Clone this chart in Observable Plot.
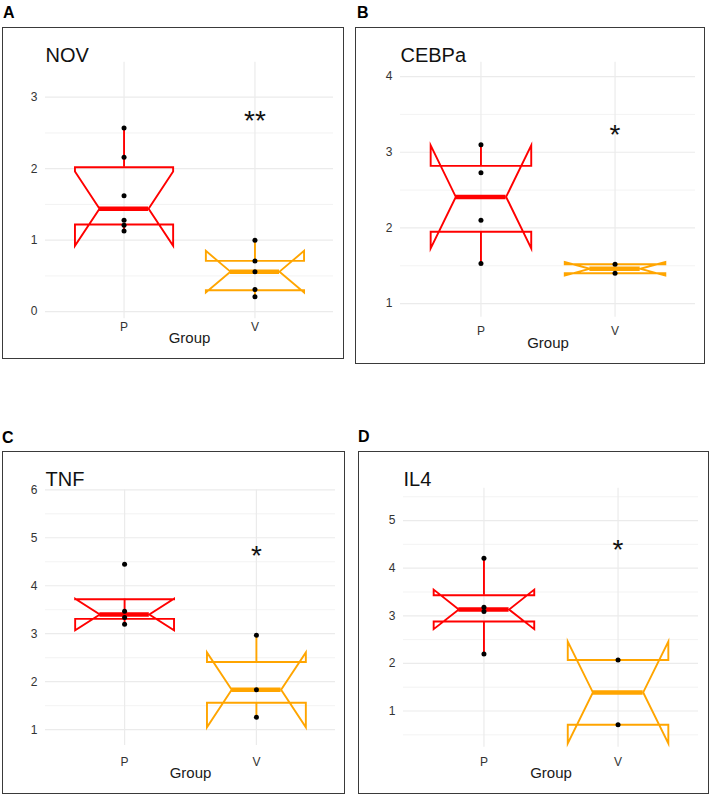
<!DOCTYPE html>
<html><head><meta charset="utf-8">
<script src="https://cdn.jsdelivr.net/npm/d3@7"></script>
<script src="https://cdn.jsdelivr.net/npm/@observablehq/plot@0.6"></script>
<style>
html,body{margin:0;padding:0;background:#fff;}
#page{position:relative;width:709px;height:794px;overflow:hidden;font-family:"Liberation Sans",Arial,Helvetica,sans-serif;}
.panel{position:absolute;}
.border{position:absolute;box-sizing:border-box;border:1.3px solid #3a3a3a;pointer-events:none;}
</style></head><body><div id="page"></div>
<script>
// ---------------- data ----------------
const panelLetters = ["A", "B", "C", "D"];
const panelTitles = ["NOV", "CEBPa", "TNF", "IL4"];
const groups = ["P", "V"];
const groupColors = ["#FF0000", "#FFA500"];

// box statistics per panel, [P, V]
const yMin       = [[1.12, 0.21], [1.53, 1.40], [3.20, 1.26], [2.20, 0.71]];
const lowerHinge = [[1.22, 0.30], [1.95, 1.40], [3.31, 1.56], [2.88, 0.71]];
const medians    = [[1.44, 0.56], [2.41, 1.46], [3.40, 1.83], [3.13, 1.39]];
const upperHinge = [[2.02, 0.71], [2.82, 1.52], [3.72, 2.41], [3.43, 2.07]];
const yMax       = [[2.57, 1.00], [3.10, 1.52], [3.48, 2.97], [4.21, 2.07]];
const notchLow   = [[0.92, 0.27], [1.73, 1.37], [3.07, 1.05], [2.72, 0.32]];
const notchHigh  = [[1.96, 0.85], [3.09, 1.55], [3.73, 2.61], [3.55, 2.46]];

// individual observations
const pointsP = [[2.57, 2.16, 1.62, 1.28, 1.21, 1.13], [3.10, 2.73, 2.10, 1.53], [4.45, 3.47, 3.34, 3.20], [4.21, 3.18, 3.09, 2.20]];
const pointsV = [[1.00, 0.71, 0.56, 0.31, 0.21], [1.52, 1.40], [2.97, 1.83, 1.26], [2.07, 0.71]];

// significance marks
const stars = ["**", "*", "*", "*"];
const starY = [2.76, 3.32, 4.77, 4.52];

// axes
const yTicks = [[0, 1, 2, 3], [1, 2, 3, 4], [1, 2, 3, 4, 5, 6], [1, 2, 3, 4, 5]];
const yMinor = [[0.5, 1.5, 2.5], [1.5, 2.5, 3.5], [1.5, 2.5, 3.5, 4.5, 5.5], [0.5, 1.5, 2.5, 3.5, 4.5, 5.5]];
const yDomains = [[-0.10, 3.49], [0.82, 4.19], [0.67, 6.0], [0.24, 5.68]];
const xLabel = "Group";

// ---------------- layout (page pixels) ----------------
const layout = [
  {box: [3, 28, 343, 358],   frame: [45, 61.7, 333, 318.3],  letter: [3, 18.3],   xGap: 4},
  {box: [356, 28, 704, 363], frame: [400, 61.7, 695, 316.7], letter: [357, 18.3], xGap: 9},
  {box: [3, 452, 344, 793],  frame: [45, 489.3, 335, 745],   letter: [2, 442.7],  xGap: 11.5},
  {box: [359, 452, 708, 793],frame: [403, 487.7, 698, 746.7],letter: [358, 442.3],xGap: 10}
];
const FONT = '"Liberation Sans", Arial, Helvetica, sans-serif';
const BOX_HALF = 0.375, NOTCH_HALF = 0.1875;
const GRID = "#EBEBEB";
const TICK_COLOR = "#333333";

const page = document.getElementById("page");

function notchPolygon(b) {
  const x0 = b.pos - BOX_HALF, x1 = b.pos + BOX_HALF;
  const n0 = b.pos - NOTCH_HALF, n1 = b.pos + NOTCH_HALF;
  return [
    [x0, b.upper], [x0, b.notchHigh], [n0, b.middle], [x0, b.notchLow], [x0, b.lower],
    [x1, b.lower], [x1, b.notchLow], [n1, b.middle], [x1, b.notchHigh], [x1, b.upper]
  ].map(([x, y]) => ({group: b.group, x, y}));
}

panelTitles.forEach((title, i) => {
  const L = layout[i];
  const [bl, bt, br, bb] = L.box;
  const [fl, ft, fr, fb] = L.frame;
  const boxes = groups.map((g, j) => ({
    group: g, pos: j + 1,
    ymin: yMin[i][j], lower: lowerHinge[i][j], middle: medians[i][j],
    upper: upperHinge[i][j], ymax: yMax[i][j],
    notchLow: notchLow[i][j], notchHigh: notchHigh[i][j]
  }));
  const poly = boxes.flatMap(notchPolygon);
  const pts = [
    ...pointsP[i].map(v => ({group: "P", pos: 1, value: v})),
    ...pointsV[i].map(v => ({group: "V", pos: 2, value: v}))
  ];
  const starData = [{pos: 2, y: starY[i], label: stars[i]}];

  const titleDy = (bt + 25.5) - ft - 0.32 * 20;
  const groupDy = (bb - 10.5) - fb - 0.32 * 15;

  const svg = Plot.plot({
    width: br - bl,
    height: bb - bt,
    marginLeft: fl - bl,
    marginRight: br - fr,
    marginTop: ft - bt,
    marginBottom: bb - fb,
    x: {domain: [0.4, 2.6]},
    y: {domain: yDomains[i]},
    color: {domain: groups, range: groupColors},
    style: {fontFamily: FONT, fontSize: "12px", background: "transparent", overflow: "visible"},
    marks: [
      Plot.ruleY(yMinor[i], {stroke: GRID, strokeWidth: 0.6}),
      Plot.ruleY(yTicks[i], {stroke: GRID, strokeWidth: 1.2}),
      Plot.ruleX(boxes, {x: "pos", stroke: GRID, strokeWidth: 1.2}),
      Plot.axisY(yTicks[i], {tickSize: 0, tickPadding: 8, tickFormat: d => String(d), color: TICK_COLOR, label: null, fontSize: 12}),
      Plot.axisX([1, 2], {tickSize: 0, tickPadding: L.xGap, tickFormat: d => groups[d - 1], color: TICK_COLOR, label: null, fontSize: 12}),
      Plot.ruleX(boxes, {x: "pos", y1: "upper", y2: "ymax", stroke: "group", strokeWidth: 1.9}),
      Plot.ruleX(boxes, {x: "pos", y1: "lower", y2: "ymin", stroke: "group", strokeWidth: 1.9}),
      Plot.line(poly, {x: "x", y: "y", z: "group", stroke: "group", strokeWidth: 1.9, curve: "linear-closed", strokeLinejoin: "miter", strokeMiterlimit: 10}),
      Plot.ruleY(boxes, {y: "middle", x1: d => d.pos - NOTCH_HALF, x2: d => d.pos + NOTCH_HALF, stroke: "group", strokeWidth: 4.5}),
      Plot.dot(pts, {x: "pos", y: "value", r: 2.5, fill: "black", stroke: null}),
      Plot.text(starData, {x: "pos", y: "y", text: "label", fontSize: 28, fill: "#111", dy: 7}),
      Plot.text([title], {frameAnchor: "top-left", text: d => d, textAnchor: "start", fontSize: 20, fill: "#111", dy: titleDy}),
      Plot.text([xLabel], {frameAnchor: "bottom", text: d => d, fontSize: 15, fill: "#1a1a1a", dy: groupDy})
    ]
  });
  const wrap = document.createElement("div");
  wrap.className = "panel";
  wrap.style.left = bl + "px";
  wrap.style.top = bt + "px";
  wrap.appendChild(svg);
  page.appendChild(wrap);

  const border = document.createElement("div");
  border.className = "border";
  border.style.left = (bl - 0.65) + "px";
  border.style.top = (bt - 0.65) + "px";
  border.style.width = (br - bl + 1.3) + "px";
  border.style.height = (bb - bt + 1.3) + "px";
  page.appendChild(border);
});

// panel letters
const overlay = d3.select(page).append("svg")
  .attr("width", 709).attr("height", 794)
  .style("position", "absolute").style("left", 0).style("top", 0)
  .style("pointer-events", "none");
overlay.selectAll("text").data(panelLetters).join("text")
  .attr("x", (d, i) => layout[i].letter[0])
  .attr("y", (d, i) => layout[i].letter[1])
  .attr("font-family", FONT).attr("font-weight", "bold").attr("font-size", 16)
  .attr("fill", "#000")
  .text(d => d);
</script></body></html>
